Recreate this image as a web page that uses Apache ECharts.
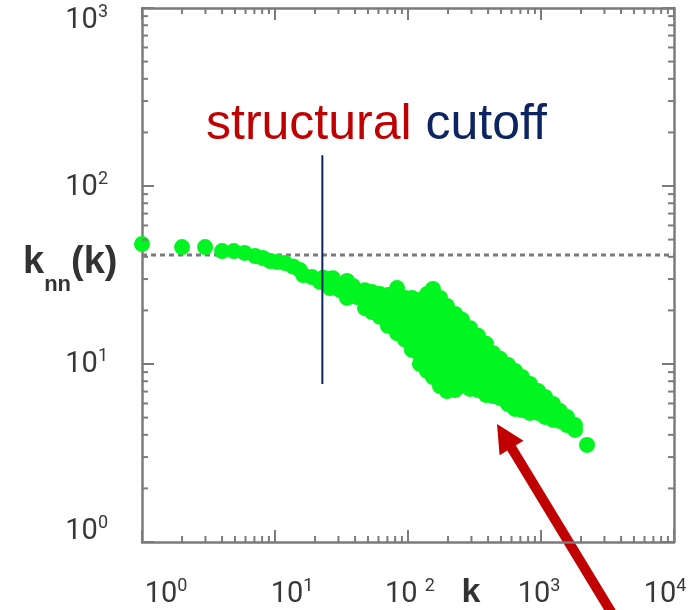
<!DOCTYPE html>
<html>
<head>
<meta charset="utf-8">
<script src="https://cdn.jsdelivr.net/npm/echarts@6/dist/echarts.min.js"></script>
<style>
  html, body { margin: 0; padding: 0; background: #ffffff; }
  #chart { width: 689px; height: 610px; }
</style>
</head>
<body>
<div id="chart"></div>
<script>
// Average nearest-neighbour degree knn(k) against degree k, log-log.

// Decade exponents used for the tick labels
const degreeDecades = [0, 1, 2, 3, 4];
const knnDecades = [0, 1, 2, 3];

// Low-degree branch: nodes whose neighbours are close to the neutral value
const lowDegreeSamples = [
  [1.0, 47.2], [2.0, 45.4], [2.98, 45.4], [4.0, 43.1], [4.9, 43.1], [5.9, 42.1],
  [7.1, 40.4], [8.1, 39.4], [9.2, 37.9], [10.4, 37.4], [11.9, 36.9], [13.7, 35.3],
  [15.4, 33.7], [16.3, 31.6], [19.0, 30.8], [21.8, 28.9], [23.0, 30.5], [25.9, 30.1],
  [25.9, 26.7], [27.3, 30.3], [29.8, 27.8], [30.8, 26.0], [34.8, 29.3], [38.6, 27.4],
  [34.8, 24.4], [34.8, 23.5], [41.4, 23.8]
];

// Hub region: degree above the structural cutoff, knn falls off
const hubSamples = [
  [47.5, 26.0], [47.5, 23.2], [47.5, 20.6],
  [53.6, 25.4], [53.6, 22.3], [53.6, 19.6],
  [61.5, 24.7], [61.5, 21.4], [61.5, 18.4],
  [70.7, 24.4], [70.7, 21.2], [70.7, 18.4], [70.7, 16.4],
  [82.7, 26.7], [82.7, 22.9], [82.7, 19.9], [82.7, 17.2], [82.7, 14.9],
  [95, 23.5], [95, 20.4], [95, 17.7], [95, 15.3], [95, 13.7],
  [107, 23.5], [107, 20.4], [107, 17.7], [107, 15.3], [107, 13.3], [107, 12.0],
  [123, 22.9], [123, 19.9], [123, 17.2], [123, 14.9], [123, 13.0], [123, 11.2], [123, 10.0],
  [139, 24.7], [139, 21.4], [139, 18.6], [139, 16.1], [139, 14.0], [139, 12.1], [139, 10.5], [139, 9.14],
  [154, 26.4], [154, 22.9], [154, 19.9], [154, 17.2], [154, 14.9], [154, 13.0], [154, 11.2], [154, 9.74], [154, 8.45],
  [174, 23.5], [174, 20.4], [174, 17.7], [174, 15.3], [174, 13.3], [174, 11.5], [174, 10.0], [174, 8.68], [174, 7.52],
  [196, 21.2], [196, 18.4], [196, 15.9], [196, 13.8], [196, 12.0], [196, 10.4], [196, 9.02], [196, 7.82], [196, 7.05],
  [226, 19.1], [226, 16.6], [226, 14.4], [226, 12.5], [226, 10.8], [226, 9.37], [226, 8.13], [226, 7.14],
  [255, 17.7], [255, 15.3], [255, 13.3], [255, 11.5], [255, 10.0], [255, 8.68], [255, 7.52],
  [293, 15.9], [293, 13.8], [293, 12.0], [293, 10.4], [293, 9.02], [293, 7.82], [293, 7.24],
  [336, 14.4], [336, 12.5], [336, 10.8], [336, 9.37], [336, 8.13], [336, 7.14],
  [386, 13.0], [386, 11.2], [386, 9.74], [386, 8.45], [386, 7.33], [386, 6.70],
  [436, 11.5], [436, 10.0], [436, 8.68], [436, 7.52], [436, 6.61],
  [492, 10.7], [492, 9.25], [492, 8.03], [492, 7.05], [492, 6.44],
  [565, 9.87], [565, 8.56], [565, 7.43], [565, 6.53], [565, 5.96],
  [638, 9.14], [638, 7.92], [638, 6.87], [638, 6.04], [638, 5.59],
  [719, 8.45], [719, 7.33], [719, 6.36], [719, 5.51],
  [826, 7.72], [826, 6.70], [826, 5.89], [826, 5.31],
  [949, 7.05], [949, 6.12], [949, 5.31],
  [1072, 6.53], [1072, 5.66], [1072, 5.04],
  [1230, 5.96], [1230, 5.24], [1230, 4.85],
  [1390, 5.44], [1390, 4.78],
  [1568, 5.04], [1568, 4.54],
  [1802, 4.54], [1802, 4.26],
  [2218, 3.51]
];

// Neutral (uncorrelated) expectation of knn
const neutralKnn = 41;
// Structural cutoff degree and the knn span of its marker
const cutoffK = 22.7;
const cutoffSpan = [7.72, 149];
// Point on the cloud the arrow points to
const arrowTarget = [467, 4.6];

const axisGray = '#7b7b7b';
const green = '#00f521';
const navy = '#0c2462';
const darkRed = '#c00000';

// Minor log ticks (2..9 per decade) on all four frame sides
const minorTicks = [];
for (let d = 0; d < 4; d++) {
  for (let m = 2; m <= 9; m++) {
    const v = m * Math.pow(10, d);
    minorTicks.push([v, 1, 0]);      // bottom
    minorTicks.push([v, 1000, 1]);   // top
  }
}
for (let d = 0; d < 3; d++) {
  for (let m = 2; m <= 9; m++) {
    const v = m * Math.pow(10, d);
    minorTicks.push([1, v, 2]);      // left
    minorTicks.push([10000, v, 3]);  // right
  }
}

function frameAxis(position, min, max, splits) {
  return {
    type: 'log', logBase: 10, min: min, max: max, splitNumber: splits,
    position: position,
    axisLine: { show: true, onZero: false, lineStyle: { color: axisGray, width: 2.5 } },
    axisTick: { show: true, inside: true, length: 12, lineStyle: { color: axisGray, width: 2 } },
    axisLabel: { show: false },
    splitLine: { show: false },
    minorTick: { show: false }
  };
}

const chart = echarts.init(document.getElementById('chart'), null, { renderer: 'canvas' });

chart.setOption({
  animation: false,
  backgroundColor: '#ffffff',
  grid: { left: 142, top: 8, right: 15, bottom: 68 },
  xAxis: [frameAxis('bottom', 1, 10000, 4), frameAxis('top', 1, 10000, 4)],
  yAxis: [frameAxis('left', 1, 1000, 3), frameAxis('right', 1, 1000, 3)],
  series: [
    {
      name: 'neutral',
      type: 'line',
      data: [[1, neutralKnn], [10000, neutralKnn]],
      symbol: 'none',
      lineStyle: { color: axisGray, width: 3, type: [5, 4] },
      silent: true,
      z: 1
    },
    {
      name: 'knn',
      type: 'scatter',
      data: lowDegreeSamples.concat(hubSamples),
      symbolSize: 16,
      itemStyle: { color: green, opacity: 1 },
      silent: true,
      z: 2
    },
    {
      name: 'cutoff',
      type: 'line',
      data: [[cutoffK, cutoffSpan[0]], [cutoffK, cutoffSpan[1]]],
      symbol: 'none',
      lineStyle: { color: navy, width: 2 },
      silent: true,
      z: 3
    },
    {
      name: 'minor ticks',
      type: 'custom',
      data: minorTicks,
      encode: { x: 0, y: 1 },
      silent: true,
      z: 4,
      renderItem: function (params, api) {
        const side = api.value(2);
        const p = api.coord([api.value(0), api.value(1)]);
        const L = 6;
        let x2 = p[0], y2 = p[1];
        if (side === 0) y2 = p[1] - L;
        else if (side === 1) y2 = p[1] + L;
        else if (side === 2) x2 = p[0] + L;
        else x2 = p[0] - L;
        return {
          type: 'line',
          shape: { x1: p[0], y1: p[1], x2: x2, y2: y2 },
          style: { stroke: axisGray, lineWidth: 2 }
        };
      }
    }
  ]
});

// Text and annotations placed from the axis scales
const toPx = (x, y) => chart.convertToPixel({ gridIndex: 0 }, [x, y]);
const tickFont = 'Roboto, "Noto Sans", sans-serif';
const tickRich = {
  b: { fontSize: 29, fontFamily: tickFont, fontWeight: 'normal', fill: '#383838', lineHeight: 32, verticalAlign: 'bottom' },
  s: { fontSize: 18, fontFamily: tickFont, fontWeight: 'normal', fill: '#383838', lineHeight: 18, verticalAlign: 'top' }
};
const xLabelShift = [24, 17, 2, -2, -9];
const yLabelShift = [-12, -1, 0, 11];

const graphics = [];
degreeDecades.forEach(function (e, i) {
  const p = toPx(Math.pow(10, e), 1);
  graphics.push({
    type: 'text', x: p[0] + xLabelShift[i], y: p[1] + 51, silent: true,
    style: {
      text: e === 2 ? '{b|10 }{s|' + e + '}' : '{b|10}{s|' + e + '}',
      rich: tickRich, align: 'center', verticalAlign: 'middle'
    }
  });
});
knnDecades.forEach(function (e, i) {
  const p = toPx(1, Math.pow(10, e));
  graphics.push({
    type: 'text', x: p[0] - 34, y: p[1] + yLabelShift[i], silent: true,
    style: { text: '{b|10}{s|' + e + '}', rich: tickRich, align: 'right', verticalAlign: 'middle' }
  });
});

// Axis titles
const boldFont = '"Liberation Sans", Arial, sans-serif';
graphics.push({
  type: 'text', x: 471, y: 593, silent: true,
  style: { text: 'k', font: 'bold 34px ' + boldFont, fill: '#333333', align: 'center', verticalAlign: 'middle' }
});
graphics.push({
  type: 'text', x: 23, y: 244, silent: true,
  style: {
    text: '{m|k}{sub|nn}{m|(k)}',
    align: 'left', verticalAlign: 'top',
    rich: {
      m: { fontSize: 38, fontWeight: 'bold', fontFamily: boldFont, fill: '#333333', lineHeight: 40, verticalAlign: 'top' },
      sub: { fontSize: 22, fontWeight: 'bold', fontFamily: boldFont, fill: '#333333', lineHeight: 22, padding: [30, 0, 0, 0], verticalAlign: 'top' }
    }
  }
});

// Cutoff caption
graphics.push({
  type: 'text', x: 206, y: 125, silent: true,
  style: {
    text: '{r|structural }{n|cutoff}',
    align: 'left', verticalAlign: 'middle',
    rich: {
      r: { fontSize: 50, fontFamily: boldFont, fill: darkRed },
      n: { fontSize: 50, fontFamily: boldFont, fill: navy }
    }
  }
});

// Arrow pointing at the lower edge of the hub cloud
(function () {
  const tip = toPx(arrowTarget[0], arrowTarget[1]);
  const ux = 0.519, uy = 0.855;       // direction from tip towards the tail
  const headLen = 28, headHalf = 14;
  const bx = tip[0] + ux * headLen, by = tip[1] + uy * headLen;
  graphics.push({
    type: 'line', silent: true,
    shape: { x1: bx - ux * 2, y1: by - uy * 2, x2: tip[0] + ux * 240, y2: tip[1] + uy * 240 },
    style: { stroke: darkRed, lineWidth: 10 }
  });
  graphics.push({
    type: 'polygon', silent: true,
    shape: { points: [[tip[0], tip[1]], [bx + uy * headHalf, by - ux * headHalf], [bx - uy * headHalf, by + ux * headHalf]] },
    style: { fill: darkRed }
  });
})();

chart.setOption({ graphic: graphics });
</script>
</body>
</html>
